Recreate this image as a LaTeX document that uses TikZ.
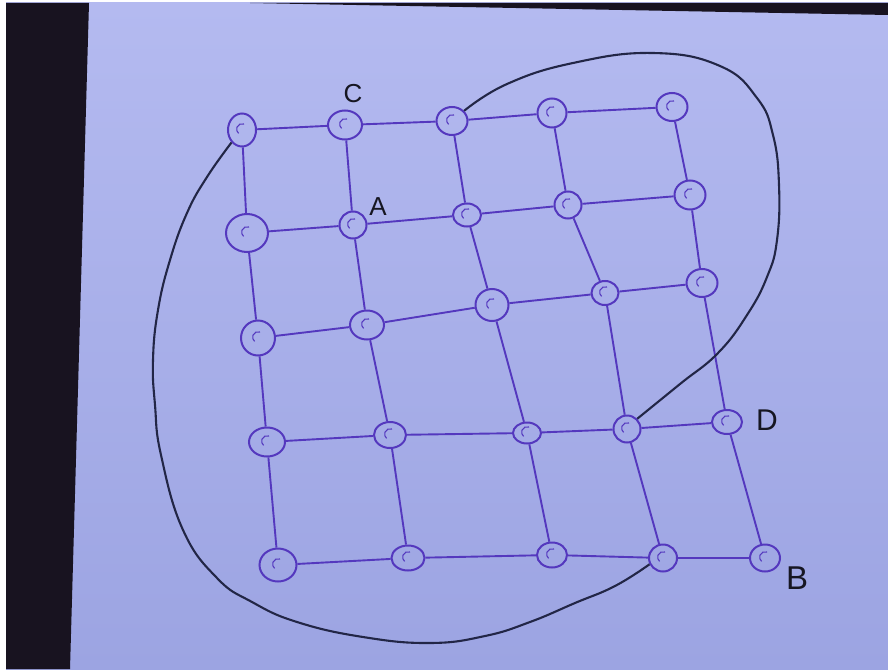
\documentclass[tikz,border=0pt]{standalone}
\usepackage{fontspec}
\setmainfont{Liberation Sans}
\usetikzlibrary{shapes.geometric}
\definecolor{paperA}{RGB}{180,186,240}
\definecolor{paperB}{RGB}{156,164,226}
\definecolor{ink}{RGB}{84,56,190}
\definecolor{curveink}{RGB}{34,38,70}
\definecolor{table}{RGB}{24,19,32}
\definecolor{lblink}{RGB}{22,22,34}
\tikzset{
  vtx/.style 2 args={ellipse, draw=ink, line width=2pt, inner sep=0pt,
    minimum width=#1pt, minimum height=#2pt,
    path picture={\draw[ink, line width=1.1pt]
      ([shift={(2pt,6pt)}]path picture bounding box.center)
      arc[start angle=70, end angle=230, radius=5.5pt];}},
  edge/.style={draw=ink, line width=1.9pt},
  loopline/.style={draw=curveink, line width=2.1pt},
  lbl/.style={text=lblink, font=\fontsize{#1}{#1}\selectfont, inner sep=0pt},
}
\begin{document}
\begin{tikzpicture}[x=1pt,y=-1pt]
\useasboundingbox (0,0) rectangle (888,669);
\fill[white] (0,0) rectangle (888,669);
\shade[top color=paperA, bottom color=paperB] (6,3) rectangle (888,669);
\fill[table] (6,3) -- (89,3) -- (70,669) -- (6,669) -- cycle;
\fill[table] (250,3) -- (888,3) -- (888,15) -- cycle;

% nodes
\node[vtx={28}{33}] (n11) at (242,130) {};
\node[vtx={34}{29}] (n12) at (345,125) {};
\node[vtx={31}{28}] (n13) at (452,121) {};
\node[vtx={29}{29}] (n14) at (552,113) {};
\node[vtx={31}{28}] (n15) at (672,107) {};
\node[vtx={42}{38}] (n21) at (247,233) {};
\node[vtx={27}{27}] (n22) at (353,225) {};
\node[vtx={28}{23}] (n23) at (467,215) {};
\node[vtx={27}{27}] (n24) at (568,205) {};
\node[vtx={31}{29}] (n25) at (690,195) {};
\node[vtx={34}{35}] (n31) at (258,338) {};
\node[vtx={34}{29}] (n32) at (367,325) {};
\node[vtx={33}{32}] (n33) at (492,305) {};
\node[vtx={27}{24}] (n34) at (605,293) {};
\node[vtx={31}{28}] (n35) at (702,283) {};
\node[vtx={36}{29}] (n41) at (267,442) {};
\node[vtx={32}{26}] (n42) at (390,435) {};
\node[vtx={28}{21}] (n43) at (527,433) {};
\node[vtx={27}{27}] (n44) at (627,429) {};
\node[vtx={30}{24}] (n45) at (727,422) {};
\node[vtx={37}{33}] (n51) at (278,565) {};
\node[vtx={33}{25}] (n52) at (408,558) {};
\node[vtx={30}{25}] (n53) at (552,555) {};
\node[vtx={28}{27}] (n54) at (663,558) {};
\node[vtx={30}{27}] (n55) at (765,558) {};

% labels
\node[lbl=26] (lC) at (353,94) {C};
\node[lbl=26] (lA) at (378,207) {A};
\node[lbl=30] (lD) at (767,420) {D};
\node[lbl=33] (lB) at (797,578) {B};

% horizontal edges
\foreach \r in {1,...,5}{
  \foreach \c/\d in {1/2,2/3,3/4,4/5}{
    \draw[edge] (n\r\c) -- (n\r\d);
  }
}
% vertical edges
\foreach \c in {1,...,5}{
  \foreach \r/\s in {1/2,2/3,3/4,4/5}{
    \draw[edge] (n\r\c) -- (n\s\c);
  }
}

% big closed curve, two arcs
\draw[loopline] plot[smooth, tension=0.75] coordinates {
  (n13.40) (507,84) (573,63) (653,53) (720,66) (757,98) (773,135)
  (779,185) (777,240) (767,277) (747,315) (718,353) (680,384) (n44.45)};
\draw[loopline] plot[smooth, tension=0.75] coordinates {
  (n11.230) (207,177) (187,213) (170,260) (158,310) (153,360) (155,405)
  (161,455) (183,530) (217,578) (252,602) (297,622) (363,637) (430,643)
  (485,636) (530,622) (575,603) (615,586) (n54.205)};
\end{tikzpicture}
\end{document}
